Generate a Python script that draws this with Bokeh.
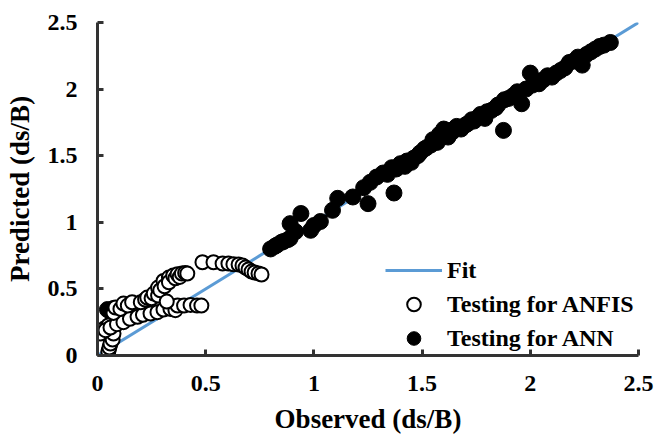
from bokeh.plotting import figure
from bokeh.models import Range1d, FixedTicker, Legend, LegendItem
from bokeh.embed import file_html
from bokeh.resources import INLINE

# ---- data ----
ticks = [0, 0.5, 1, 1.5, 2, 2.5]
tick_labels = ["0", "0.5", "1", "1.5", "2", "2.5"]

fit_x = [0, 2.5]
fit_y = [0, 2.5]

ann_obs = [0.046, 0.074, 0.06, 0.80, 0.82, 0.83, 0.85, 0.86, 0.88, 0.89, 0.915, 0.89, 0.94, 0.985,
           1.0, 1.03, 1.086, 1.11, 1.18, 1.25, 1.23, 1.26, 1.29, 1.32, 1.34, 1.37, 1.36,
           1.38, 1.40, 1.42, 1.43, 1.45, 1.46, 1.48, 1.49, 1.51, 1.52, 1.54, 1.55, 1.57,
           1.58, 1.60, 1.62, 1.63, 1.64, 1.66, 1.68, 1.70, 1.71, 1.73, 1.74, 1.76, 1.77,
           1.79, 1.80, 1.82, 1.84, 1.85, 1.876, 1.88, 1.90, 1.92, 1.94, 1.96, 1.98,
           2.0, 2.01, 2.03, 2.04, 2.06, 2.08, 2.10, 2.12, 2.14, 2.16, 2.18, 2.20, 2.22,
           2.24, 2.26, 2.28, 2.30, 2.32, 2.34, 2.37]
ann_pred = [0.345, 0.353, 0.33, 0.80, 0.82, 0.83, 0.85, 0.856, 0.87, 0.88, 0.93, 0.99, 1.066, 0.94,
            0.976, 1.006, 1.09, 1.18, 1.19, 1.14, 1.26, 1.30, 1.34, 1.37, 1.36, 1.22, 1.41,
            1.40, 1.44, 1.42, 1.46, 1.45, 1.48, 1.50, 1.52, 1.55, 1.56, 1.58, 1.62, 1.60,
            1.66, 1.70, 1.64, 1.69, 1.68, 1.72, 1.70, 1.73, 1.74, 1.77, 1.76, 1.79, 1.81,
            1.78, 1.83, 1.84, 1.86, 1.88, 1.69, 1.92, 1.93, 1.95, 1.98, 1.89, 2.0,
            2.12, 2.03, 2.06, 2.04, 2.07, 2.10, 2.09, 2.12, 2.14, 2.16, 2.20, 2.21, 2.24,
            2.18, 2.26, 2.28, 2.30, 2.32, 2.33, 2.35]

anfis_obs = [0.05, 0.055, 0.06, 0.07, 0.074, 0.014, 0.03, 0.05,
             0.037, 0.06, 0.09, 0.12, 0.15, 0.185, 0.21, 0.245, 0.277, 0.305, 0.337, 0.36,
             0.37, 0.40, 0.43, 0.46, 0.48,
             0.074, 0.083, 0.106, 0.12, 0.14, 0.16, 0.20, 0.22, 0.23, 0.25, 0.26, 0.28,
             0.28, 0.29, 0.305, 0.31, 0.32, 0.33, 0.33, 0.35, 0.36, 0.37, 0.38, 0.39,
             0.405, 0.415,
             0.485, 0.536, 0.578, 0.605, 0.628, 0.652, 0.67, 0.684, 0.698, 0.712, 0.726,
             0.744, 0.758]
anfis_pred = [0.03, 0.06, 0.09, 0.12, 0.165, 0.165, 0.20, 0.225,
              0.19, 0.21, 0.235, 0.25, 0.275, 0.29, 0.305, 0.315, 0.325, 0.345, 0.35, 0.34,
              0.375, 0.375, 0.38, 0.375, 0.375,
              0.32, 0.36, 0.35, 0.39, 0.375, 0.40, 0.40, 0.42, 0.435, 0.43, 0.465, 0.45,
              0.51, 0.49, 0.56, 0.52, 0.405, 0.585, 0.55, 0.60, 0.58, 0.61, 0.59, 0.615,
              0.62, 0.615,
              0.70, 0.70, 0.69, 0.69, 0.685, 0.683, 0.676, 0.66, 0.646, 0.63, 0.623,
              0.616, 0.608]

FONT = "Liberation Serif"
AXIS_COLOR = "#333333"

p = figure(width=655, height=436, output_backend="svg", toolbar_location=None,
           x_range=Range1d(0, 2.5), y_range=Range1d(0, 2.5),
           min_border_left=97, min_border_right=17, min_border_top=22, min_border_bottom=81)
p.outline_line_color = None
p.grid.visible = False

fit = p.line(fit_x, fit_y, line_color="#5B9BD5", line_width=3)
ann = p.scatter(ann_obs, ann_pred, size=16, marker="circle", fill_color="black",
                line_color="black", line_width=1)
anfis = p.scatter(anfis_obs, anfis_pred, size=14, marker="circle", fill_color="white",
                  line_color="black", line_width=2)

overrides = {float(t): lab for t, lab in zip(ticks, tick_labels)}
for ax in (p.xaxis[0], p.yaxis[0]):
    ax.ticker = FixedTicker(ticks=ticks)
    ax.major_label_overrides = overrides
    ax.minor_tick_line_color = None
    ax.major_tick_in = 6
    ax.major_tick_out = 0
    ax.major_tick_line_width = 3
    ax.major_tick_line_color = AXIS_COLOR
    ax.axis_line_width = 3
    ax.axis_line_color = AXIS_COLOR
    ax.major_label_text_font = FONT
    ax.major_label_text_font_style = "bold"
    ax.major_label_text_font_size = "24px"
    ax.major_label_text_color = "black"
    ax.axis_label_text_font = FONT
    ax.axis_label_text_font_style = "bold"
    ax.axis_label_text_font_size = "27px"
    ax.axis_label_text_color = "black"

p.xaxis.axis_label = "Observed (ds/B)"
p.yaxis.axis_label = "Predicted (ds/B)"
p.xaxis.major_label_standoff = 20
p.xaxis.axis_label_standoff = 10
p.yaxis.major_label_standoff = 20
p.yaxis.axis_label_standoff = 10

legend = Legend(items=[LegendItem(label="Fit", renderers=[fit]),
                       LegendItem(label="Testing for ANFIS", renderers=[anfis]),
                       LegendItem(label="Testing for ANN", renderers=[ann])],
                location=(288, 0))
legend.border_line_color = None
legend.background_fill_alpha = 0
legend.padding = 0
legend.margin = 0
legend.spacing = 0
legend.glyph_width = 57
legend.glyph_height = 34
legend.label_height = 34
legend.label_standoff = 5
legend.label_text_font = FONT
legend.label_text_font_style = "bold"
legend.label_text_font_size = "24px"
legend.label_text_color = "black"
p.add_layout(legend)

open("out.html", "w").write(file_html(p, INLINE))
